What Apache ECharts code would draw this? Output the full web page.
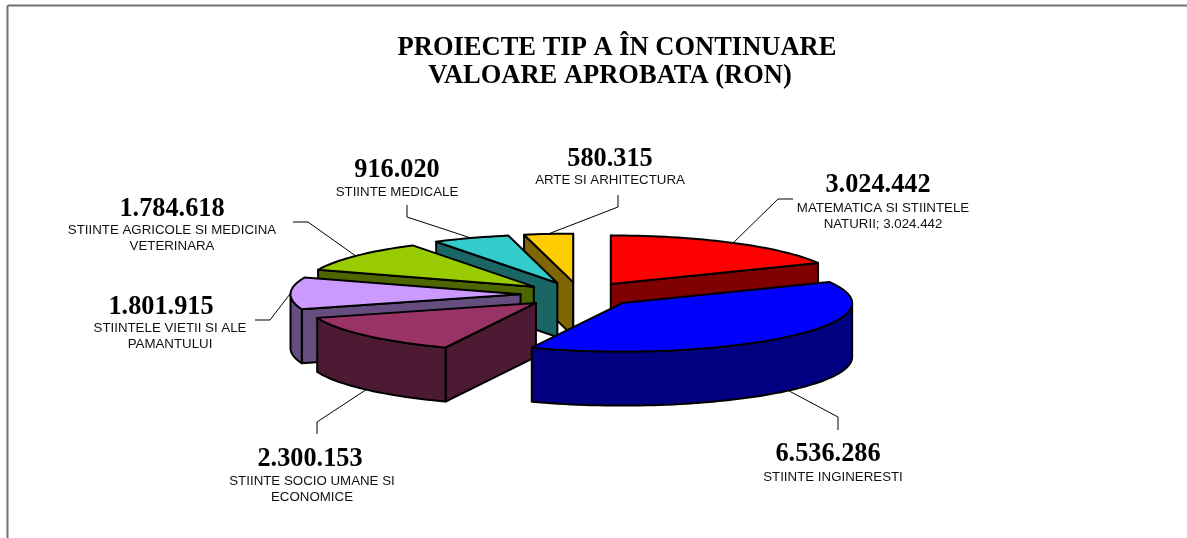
<!DOCTYPE html>
<html><head><meta charset="utf-8">
<style>html,body{margin:0;padding:0;background:#fff}#c{width:1187px;height:538px}</style>
<script src="https://cdn.jsdelivr.net/npm/echarts@6/dist/echarts.min.js"></script>
</head><body><div id="c"></div>
<script>
const categories = [
  ['MATEMATICA SI STIINTELE', 'NATURII; 3.024.442'],
  ['STIINTE INGINERESTI'],
  ['STIINTE SOCIO UMANE SI', 'ECONOMICE'],
  ['STIINTELE VIETII SI ALE', 'PAMANTULUI'],
  ['STIINTE AGRICOLE SI MEDICINA', 'VETERINARA'],
  ['STIINTE MEDICALE'],
  ['ARTE SI ARHITECTURA']
];
const values = [3024442, 6536286, 2300153, 1801915, 1784618, 916020, 580315];
const colors = ['#FF0000', '#0000FF', '#993366', '#CC99FF', '#99CC00', '#33CCCC', '#FFCC00'];
const wallColors = ['#800000', '#000080', '#4D1A33', '#664D80', '#4D6600', '#1A6666', '#806600'];
const titleLines = ['PROIECTE TIP A ÎN CONTINUARE', 'VALOARE APROBATA (RON)'];

// Layout of the pseudo-3D pie (not data)
const pie = { cx: 579.5, cy: 294.5, rx: 230, ry: 48.5, depth: 54, explode: 59 };
// Label placement: value centre, category centre, first category line y, leader knee points
const labelLayout = [
  { vx: 878, vy: 185, sx: 883, sy: 208, knee: [[793, 199], [778, 199]] },
  { vx: 828, vy: 454, sx: 833, sy: 477, knee: [[838, 430], [838, 417]] },
  { vx: 310, vy: 459, sx: 312, sy: 481, knee: [[317, 434], [317, 422]] },
  { vx: 161, vy: 307, sx: 170, sy: 328, knee: [[255, 320], [270, 320]] },
  { vx: 172, vy: 209, sx: 172, sy: 230, knee: [[293, 222], [308, 222]] },
  { vx: 397, vy: 170, sx: 397, sy: 192, knee: [[407, 205], [407, 217]] },
  { vx: 610, vy: 159, sx: 610, sy: 180, knee: [[618, 195], [618, 207]] }
];

const total = values.reduce((a, b) => a + b, 0);
const fmt = v => String(v).replace(/\B(?=(\d{3})+$)/g, '.');
const angles = [];
values.reduce((acc, v) => { const s = acc / total * Math.PI * 2, e = (acc + v) / total * Math.PI * 2; angles.push([s, e]); return acc + v; }, 0);

function renderItem(params, api) {
  const i = params.dataIndex;
  const [a0, a1] = angles[i];
  const mid = (a0 + a1) / 2;
  const ax = pie.cx + pie.explode * Math.sin(mid);
  const ay = pie.cy - pie.explode * Math.cos(mid) * pie.ry / pie.rx;
  const pt = t => [ax + pie.rx * Math.sin(t), ay - pie.ry * Math.cos(t)];
  const down = p => [p[0], p[1] + pie.depth];
  const arc = (s, e) => { const n = Math.max(2, Math.ceil((e - s) / 0.03)), o = []; for (let k = 0; k <= n; k++) o.push(pt(s + (e - s) * k / n)); return o; };
  const rank = angles.map(a => -Math.cos((a[0] + a[1]) / 2)).sort((x, y) => x - y).indexOf(-Math.cos(mid));
  const st = fill => ({ fill, stroke: '#000', lineWidth: 2, lineJoin: 'round' });
  const kids = [];
  const add = (points, fill, z) => kids.push({ type: 'polygon', z2: rank * 10 + z, shape: { points }, style: st(fill) });
  const apex = [ax, ay];
  const wall = wallColors[i];
  if (Math.sin(a0) < 1e-6) { const o = pt(a0); add([apex, o, down(o), down(apex)], wall, 1); }
  if (Math.sin(a1) > -1e-6) { const o = pt(a1); add([apex, o, down(o), down(apex)], wall, 1); }
  const fs = Math.max(a0, Math.PI / 2), fe = Math.min(a1, Math.PI * 1.5);
  if (fe > fs) { const top = arc(fs, fe); add(top.concat(top.map(down).reverse()), wall, 2); }
  add([apex].concat(arc(a0, a1)), colors[i], 3);

  // leader from the slice's outer mid-angle point
  const m = pt(mid);
  const anchor = Math.cos(mid) < 0 ? down(m) : m;
  const lay = labelLayout[i];
  kids.push({ type: 'polyline', z2: 200, shape: { points: lay.knee.concat([anchor]) }, style: { fill: null, stroke: '#000', lineWidth: 1 } });
  // value and category labels
  kids.push({ type: 'text', z2: 201, x: lay.vx, y: lay.vy, style: { text: fmt(api.value(0)), fontFamily: '"Liberation Serif"', fontWeight: 'bold', fontSize: 26.3, fill: '#000', align: 'center', verticalAlign: 'middle' } });
  categories[i].forEach((line, k) => kids.push({ type: 'text', z2: 201, x: lay.sx, y: lay.sy + k * 16.5, style: { text: line, fontFamily: '"Liberation Sans"', fontSize: 13.3, fill: '#111', align: 'center', verticalAlign: 'middle' } }));
  return { type: 'group', children: kids };
}

const chart = echarts.init(document.getElementById('c'), null, { renderer: 'canvas' });
chart.setOption({
  animation: false,
  backgroundColor: '#fff',
  title: [
    { text: titleLines[0], left: 617, top: 48, textAlign: 'center', textVerticalAlign: 'middle', padding: 0, textStyle: { fontFamily: '"Liberation Serif"', fontWeight: 'bold', fontSize: 26.5, color: '#000' } },
    { text: titleLines[1], left: 610, top: 76, textAlign: 'center', textVerticalAlign: 'middle', padding: 0, textStyle: { fontFamily: '"Liberation Serif"', fontWeight: 'bold', fontSize: 26.5, color: '#000' } }
  ],
  graphic: [
    { type: 'line', silent: true, shape: { x1: 7.5, y1: 5.5, x2: 1187, y2: 5.5 }, style: { stroke: '#707070', lineWidth: 2 } },
    { type: 'line', silent: true, shape: { x1: 7.5, y1: 5.5, x2: 7.5, y2: 538 }, style: { stroke: '#707070', lineWidth: 2 } }
  ],
  series: [{
    type: 'custom',
    coordinateSystem: 'none',
    silent: true,
    renderItem,
    data: values.map(v => [v])
  }]
});
</script></body></html>
